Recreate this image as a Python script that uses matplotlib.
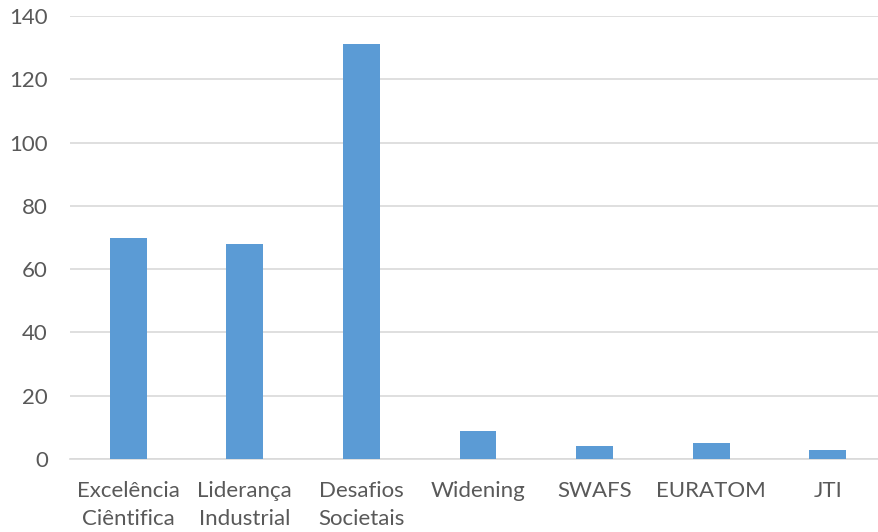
import matplotlib.pyplot as plt
import numpy as np

# Chart data
categories = ['Excelência\nCiêntifica', 'Liderança\nIndustrial', 'Desafios\nSocietais',
              'Widening', 'SWAFS', 'EURATOM', 'JTI']
values = [70, 68, 131, 9, 4, 5, 3]
y_ticks = [0, 20, 40, 60, 80, 100, 120, 140]

bar_color = '#5B9BD5'
grid_color = '#D9D9D9'
text_color = '#595959'

plt.rcParams['font.family'] = ['Lato', 'DejaVu Sans']

fig = plt.figure(figsize=(8.79, 5.32), dpi=100)
# axes extend a bit past the right edge, as in the reference crop
ax = fig.add_axes([70 / 879, 1 - 459 / 532, 816 / 879, 443 / 532])

x = np.arange(len(categories))
ax.bar(x, values, width=0.315, color=bar_color, zorder=3)

ax.set_xlim(-0.5, len(categories) - 0.5)
ax.set_ylim(0, 140)
ax.set_yticks(y_ticks)
ax.set_xticks(x)
ax.set_xticklabels(categories, fontsize=16, color=text_color, linespacing=1.5)
ax.tick_params(axis='y', labelsize=16, labelcolor=text_color, length=0, pad=16)
ax.tick_params(axis='x', length=0, pad=16)

ax.yaxis.grid(True, color=grid_color, linewidth=1.2, zorder=0)
for side in ['top', 'right', 'left']:
    ax.spines[side].set_visible(False)
ax.spines['bottom'].set_color(grid_color)
ax.spines['bottom'].set_linewidth(1.2)

fig.savefig('out.png', dpi=100)
